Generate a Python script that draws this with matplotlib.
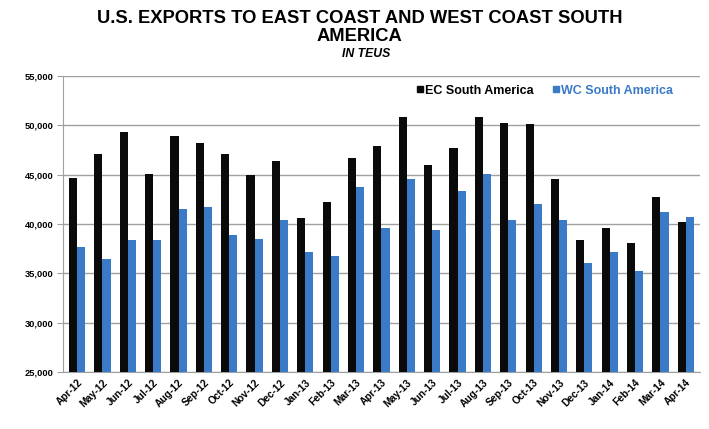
import matplotlib
matplotlib.use('Agg')
import matplotlib.pyplot as plt
from matplotlib.ticker import FuncFormatter
from matplotlib.lines import Line2D
import numpy as np

plt.rcParams['font.family'] = ['Liberation Sans', 'DejaVu Sans']

months = ['Apr-12', 'May-12', 'Jun-12', 'Jul-12', 'Aug-12', 'Sep-12', 'Oct-12',
          'Nov-12', 'Dec-12', 'Jan-13', 'Feb-13', 'Mar-13', 'Apr-13', 'May-13',
          'Jun-13', 'Jul-13', 'Aug-13', 'Sep-13', 'Oct-13', 'Nov-13', 'Dec-13',
          'Jan-14', 'Feb-14', 'Mar-14', 'Apr-14']
ec_sa = [44700, 47120, 49290, 45040, 48920, 48240, 47060, 44940, 46380, 40600,
         42190, 46690, 47900, 50810, 45950, 47670, 50880, 50200, 50130, 44530,
         38380, 39600, 38070, 42700, 40170]
wc_sa = [37670, 36450, 38380, 38350, 41490, 41750, 38880, 38480, 40400, 37190,
         36760, 43720, 39560, 44590, 39420, 43340, 45040, 40400, 42030, 40440,
         36020, 37190, 35200, 41250, 40680]

blue = '#3a7ac6'

fig = plt.figure(figsize=(7.09, 4.29), dpi=100)
ax = fig.add_axes([0.089, 0.133, 0.898, 0.690])

x = np.arange(len(months))
w = 0.32
ax.bar(x - w / 2, ec_sa, w, color='#0a0a0a', zorder=3)
ax.bar(x + w / 2, wc_sa, w, color=blue, zorder=3)

ax.set_ylim(25000, 55000)
ax.set_xlim(-0.55, len(months) - 0.45)
ax.set_yticks(range(25000, 55001, 5000))
ax.yaxis.set_major_formatter(FuncFormatter(lambda v, p: f'{int(v):,}'))
ax.grid(axis='y', color='#a0a0a0', linewidth=1.0, zorder=0)
ax.set_xticks(x)
ax.set_xticklabels(months, rotation=45, ha='right', rotation_mode='anchor')
for lab in ax.get_yticklabels():
    lab.set_fontweight('bold')
    lab.set_fontsize(6.7)
for lab in ax.get_xticklabels():
    lab.set_fontweight('bold')
    lab.set_fontsize(7.3)
ax.tick_params(axis='x', length=0, pad=4)
ax.tick_params(axis='y', length=4, color='#a0a0a0', pad=3)
for s in ['top', 'right']:
    ax.spines[s].set_visible(False)
ax.spines['left'].set_color('#a0a0a0')
ax.spines['bottom'].set_color('#a0a0a0')

handles = [Line2D([], [], marker='s', linestyle='', color='#0a0a0a', markersize=4.5),
           Line2D([], [], marker='s', linestyle='', color=blue, markersize=4)]
leg = ax.legend(handles, ['EC South America', 'WC South America'], loc='upper right',
                bbox_to_anchor=(0.976, 1.008), ncol=2, frameon=False, handlelength=0.5,
                handletextpad=0.15, columnspacing=1.6, prop={'weight': 'bold', 'size': 9})
leg.get_texts()[1].set_color(blue)

fig.text(0.507, 0.935, 'U.S. EXPORTS TO EAST COAST AND WEST COAST SOUTH\nAMERICA',
         ha='center', va='center', fontsize=13.2, fontweight='bold', linespacing=1.08)
fig.text(0.516, 0.874, 'IN TEUS', ha='center', va='center', fontsize=8.8,
         fontweight='bold', style='italic')

fig.savefig('out.png', dpi=100)
